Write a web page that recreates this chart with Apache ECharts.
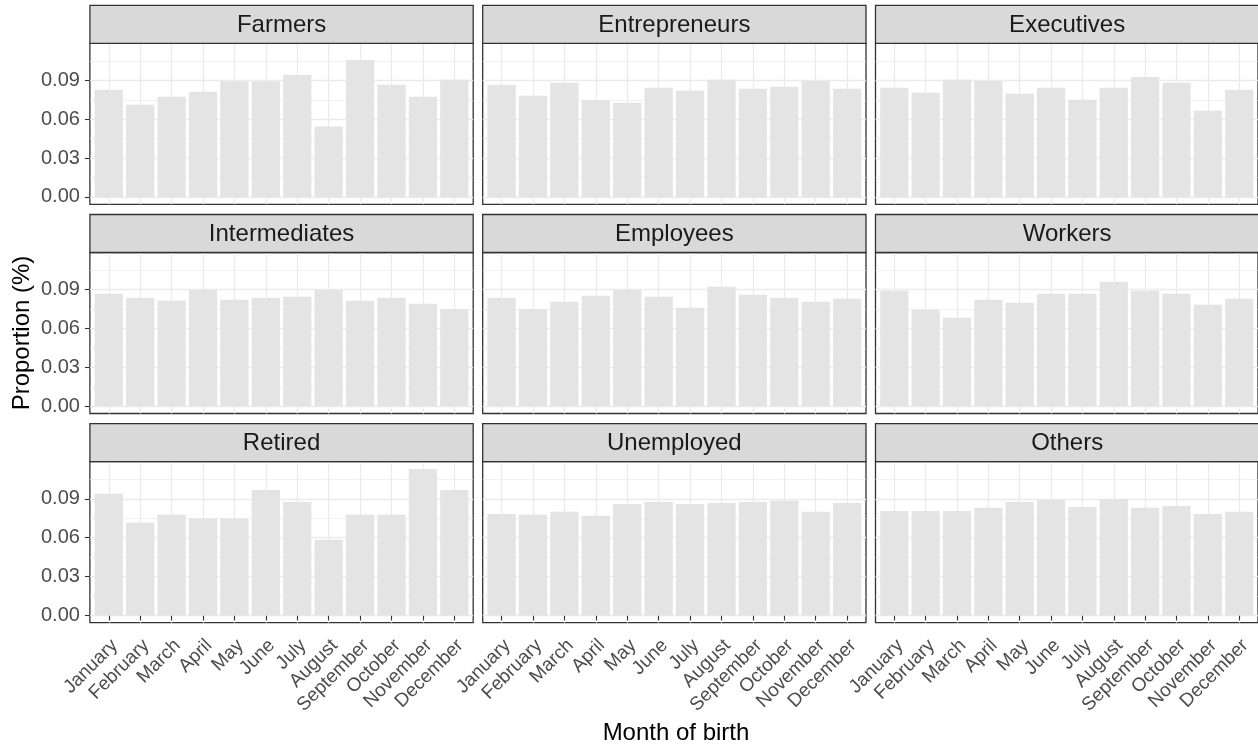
<!DOCTYPE html>
<html><head><meta charset="utf-8">
<script src="https://cdn.jsdelivr.net/npm/echarts@6/dist/echarts.min.js"></script>
<style>html,body{margin:0;padding:0;background:#fff}#c{width:1258px;height:747px}</style>
</head><body><div id="c"></div>
<script>
// ---- data ----
const months = ['January','February','March','April','May','June','July','August','September','October','November','December'];
const groups = ['Farmers','Entrepreneurs','Executives','Intermediates','Employees','Workers','Retired','Unemployed','Others'];
const farmers       = [0.0828,0.0713,0.0775,0.0813,0.0895,0.0895,0.0943,0.0545,0.1059,0.0867,0.0775,0.0905];
const entrepreneurs = [0.0867,0.0782,0.0882,0.0749,0.0729,0.0844,0.0821,0.0905,0.0836,0.0851,0.0897,0.0836];
const executives    = [0.0844,0.0805,0.0905,0.0897,0.0798,0.0844,0.0752,0.0844,0.0928,0.0882,0.0667,0.0828];
const intermediates = [0.0869,0.0838,0.0815,0.0900,0.0823,0.0838,0.0846,0.0900,0.0815,0.0838,0.0792,0.0750];
const employees     = [0.0838,0.0750,0.0807,0.0854,0.0900,0.0846,0.0761,0.0923,0.0861,0.0838,0.0807,0.0830];
const workers       = [0.0892,0.0745,0.0683,0.0823,0.0799,0.0869,0.0869,0.0962,0.0892,0.0869,0.0784,0.0830];
const retired       = [0.0939,0.0715,0.0777,0.0751,0.0751,0.0969,0.0877,0.0584,0.0777,0.0777,0.1131,0.0969];
const unemployed    = [0.0784,0.0777,0.0800,0.0769,0.0861,0.0877,0.0861,0.0869,0.0877,0.0885,0.0800,0.0869];
const others        = [0.0807,0.0807,0.0807,0.0831,0.0877,0.0892,0.0838,0.0900,0.0831,0.0846,0.0784,0.0800];
const yTickValues   = [0, 0.03, 0.06, 0.09];
const yMinorValues  = [0.015, 0.045, 0.075, 0.105];
const xTitle = 'Month of birth';
const yTitle = 'Proportion (%)';

const seriesValues = [farmers, entrepreneurs, executives, intermediates, employees, workers, retired, unemployed, others];

// ---- layout ----
const colLeft = [89.9, 482.7, 875.5];
const panelW = 383.3;
const stripTop = [5.3, 214.5, 423.7];
const stripH = 38;
const plotH = 161;

// ggplot-like expansion
const dataMax = Math.max(...seriesValues.flat());
const pad = dataMax * 0.05;
const yMin = -pad, yMax = dataMax + pad;
const xCats = months.map((m, i) => i + 1);

const grids = [], xAxes = [], yAxes = [], series = [], graphics = [];
const lineCol = '#333333';
const gridCol = '#EBEBEB';

for (let k = 0; k < 9; k++) {
  const r = Math.floor(k / 3), c = k % 3;
  const left = colLeft[c], top = stripTop[r] + stripH;
  grids.push({left: left, top: top, width: panelW, height: plotH, show: true,
    backgroundColor: '#fff', borderColor: lineCol, borderWidth: 1.3, containLabel: false});
  const bottomRow = r === 2, leftCol = c === 0;
  xAxes.push({
    type: 'value', gridIndex: k, min: 0.4, max: 12.6,
    axisLine: {show: false},
    axisTick: {show: bottomRow, customValues: xCats, length: 5, lineStyle: {color: lineCol, width: 1.1}},
    axisLabel: {show: bottomRow, customValues: xCats, rotate: 45, margin: 4,
      align: 'right', verticalAlign: 'top', padding: [6, 7, 0, 0],
      fontFamily: 'Liberation Sans', fontSize: 19, color: '#4D4D4D',
      formatter: v => months[Math.round(v) - 1] || ''},
    splitLine: {show: true, lineStyle: {color: gridCol, width: 1.3}}
  });
  yAxes.push({
    type: 'value', gridIndex: k, min: yMin, max: yMax,
    axisLine: {show: false},
    axisTick: {show: leftCol, customValues: yTickValues, length: 5, lineStyle: {color: lineCol, width: 1.1}},
    axisLabel: {show: leftCol, customValues: yTickValues, margin: 10,
      fontFamily: 'Liberation Sans', fontSize: 20, color: '#4D4D4D',
      formatter: v => v.toFixed(2)},
    splitLine: {show: true, lineStyle: {color: gridCol, width: 1.3}}
  });
  yAxes.push({
    type: 'value', gridIndex: k, min: yMin, max: yMax, position: 'left',
    axisLine: {show: false},
    axisTick: {show: false, customValues: yMinorValues},
    axisLabel: {show: false, customValues: yMinorValues},
    splitLine: {show: true, lineStyle: {color: gridCol, width: 0.7}}
  });
  series.push({
    type: 'bar', xAxisIndex: k, yAxisIndex: 2 * k, barWidth: '90%',
    itemStyle: {color: '#E4E4E4'},
    data: seriesValues[k].map((v, i) => [xCats[i], v]),
    silent: true
  });
  graphics.push({
    type: 'rect', shape: {x: left, y: stripTop[r], width: panelW, height: stripH},
    style: {fill: '#D9D9D9', stroke: lineCol, lineWidth: 1.3}, z: 10
  });
  graphics.push({
    type: 'text', x: left + panelW / 2, y: stripTop[r] + stripH / 2 + 1,
    style: {text: groups[k], fill: '#1A1A1A', font: '24px "Liberation Sans"',
      textAlign: 'center', textVerticalAlign: 'middle'}, z: 11
  });
}
graphics.push({
  type: 'text', x: 676, y: 733,
  style: {text: xTitle, fill: '#000', font: '24px "Liberation Sans"', textAlign: 'center', textVerticalAlign: 'middle'}
});
graphics.push({
  type: 'text', x: 22, y: 333, rotation: Math.PI / 2,
  style: {text: yTitle, fill: '#000', font: '24px "Liberation Sans"', textAlign: 'center', textVerticalAlign: 'middle'}
});

const chart = echarts.init(document.getElementById('c'), null, {renderer: 'canvas'});
chart.setOption({
  animation: false,
  backgroundColor: '#fff',
  grid: grids, xAxis: xAxes, yAxis: yAxes, series: series, graphic: graphics
});
</script></body></html>
